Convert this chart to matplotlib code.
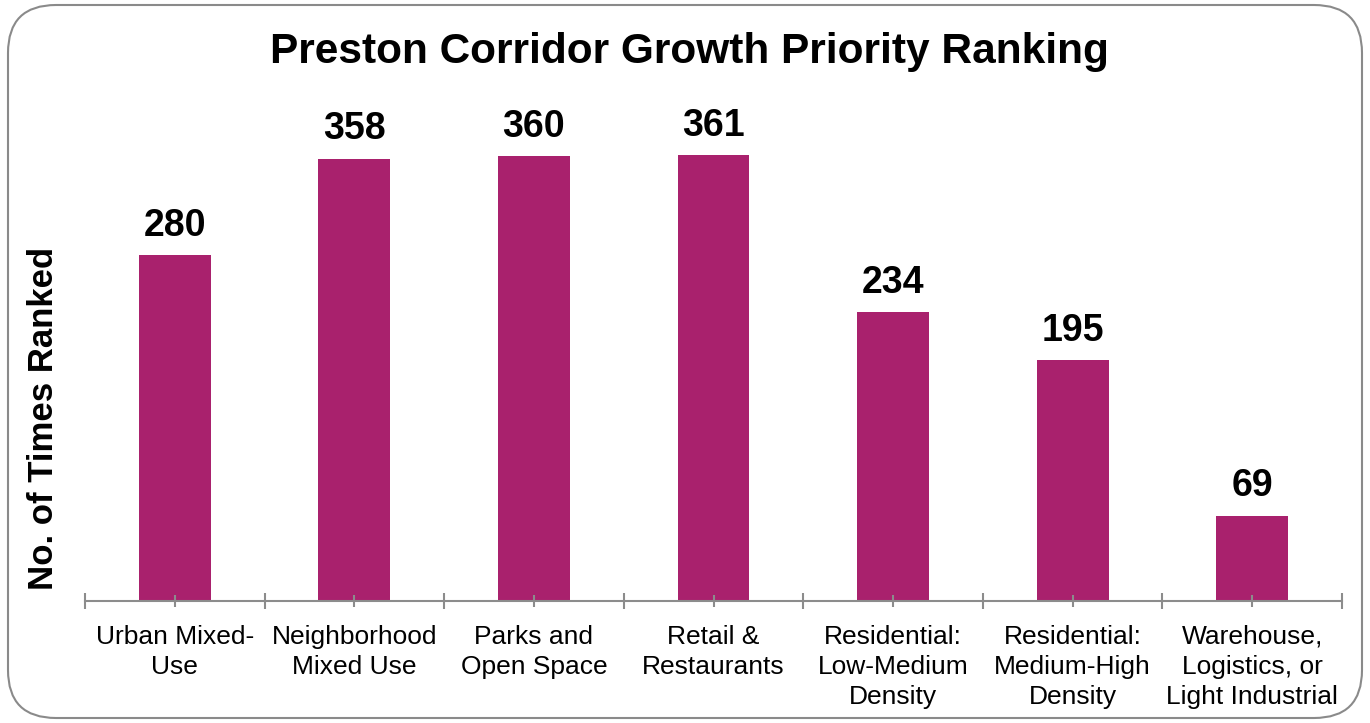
import matplotlib
matplotlib.use("Agg")
import matplotlib.pyplot as plt
from matplotlib.patches import FancyBboxPatch
import numpy as np

plt.rcParams['font.family'] = ['Liberation Sans', 'DejaVu Sans']

# chart data
categories = ["Urban Mixed-\nUse", "Neighborhood\nMixed Use", "Parks and\nOpen Space",
              "Retail &\nRestaurants", "Residential:\nLow-Medium\nDensity",
              "Residential:\nMedium-High\nDensity", "Warehouse,\nLogistics, or\nLight Industrial"]
times_ranked = [280, 358, 360, 361, 234, 195, 69]

BAR_COLOR = "#A9216D"
AXIS_GRAY = "#8C8C8C"

fig = plt.figure(figsize=(13.7, 7.23), dpi=100)

# rounded frame around the whole chart
frame = FancyBboxPatch((8 / 1370, 5 / 723), 1354 / 1370, 713 / 723,
                       boxstyle="round,pad=0,rounding_size=0.035",
                       transform=fig.transFigure, facecolor="none",
                       edgecolor="#8A8A8A", linewidth=1.5, mutation_aspect=1370 / 723,
                       zorder=-1)
fig.patches.append(frame)

ax = fig.add_axes([85 / 1370, 122 / 723, 1257 / 1370, 494 / 723])
ax.patch.set_alpha(0)

x = np.arange(len(categories))
bars = ax.bar(x, times_ranked, width=0.40, color=BAR_COLOR)

for xi, v in zip(x, times_ranked):
    ax.annotate(str(v), (xi, v), xytext=(0, 14), textcoords="offset points",
                ha="center", va="baseline", fontsize=27, fontweight="bold")

ax.set_xlim(-0.5, len(categories) - 0.5)
ax.set_ylim(0, 400)
ax.set_yticks([])
for s in ["top", "right", "left"]:
    ax.spines[s].set_visible(False)
ax.spines["bottom"].set_color(AXIS_GRAY)
ax.spines["bottom"].set_linewidth(1.5)

# labels at category centres, long ticks at category boundaries
ax.set_xticks(x)
ax.set_xticklabels(categories, fontsize=19, linespacing=1.33)
ax.set_xticks(np.arange(-0.5, len(categories)), minor=True)
ax.tick_params(axis="x", which="major", direction="inout", length=8, width=1.5,
               color=AXIS_GRAY, pad=13)
ax.tick_params(axis="x", which="minor", direction="inout", length=11, width=1.5,
               color=AXIS_GRAY)

fig.text(689 / 1370, 1 - 63 / 723, "Preston Corridor Growth Priority Ranking",
         ha="center", va="baseline", fontsize=30.5, fontweight="bold")
fig.text(44 / 1370, 1 - 418 / 723, "No. of Times Ranked", rotation=90,
         ha="center", va="center", fontsize=25, fontweight="bold")

fig.savefig("out.png", dpi=100)
